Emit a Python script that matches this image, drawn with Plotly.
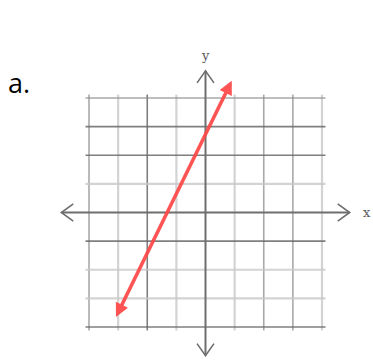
import plotly.graph_objects as go

# Graph paper: integer grid from -4 to 4 on both axes
grid_ticks = [-4, -3, -2, -1, 1, 2, 3, 4]
# shade of each grid line ("d" dark, "m" medium, "l" light), same order as grid_ticks
vert_shade = ["m", "l", "d", "l", "l", "m", "m", "l"]
horiz_shade = ["d", "l", "l", "d", "l", "d", "d", "m"]

# Red line with arrows on both ends (endpoints in graph units)
line_x = [-3.1, 0.9]
line_y = [-3.7, 4.6]

axis_extent = 4.95
item_label = "a."

shade_col = {"d": "rgba(105,105,105,0.85)", "m": "rgba(140,140,140,0.75)", "l": "rgba(200,200,200,0.8)"}
shade_w = {"d": 1.6, "m": 1.6, "l": 2.2}
grid_over = 0.12
axis_col = "rgb(110,110,110)"

fig = go.Figure()
shapes = []
for t, s in zip(grid_ticks, vert_shade):
    shapes.append(dict(type="line", xref="x", yref="y", x0=t, x1=t,
                       y0=-4 - grid_over, y1=4 + grid_over,
                       line=dict(color=shade_col[s], width=shade_w[s])))
for t, s in zip(grid_ticks, horiz_shade):
    shapes.append(dict(type="line", xref="x", yref="y", y0=t, y1=t,
                       x0=-4 - grid_over, x1=4 + grid_over,
                       line=dict(color=shade_col[s], width=shade_w[s])))

# Axes
shapes.append(dict(type="line", xref="x", yref="y", x0=-axis_extent, x1=axis_extent, y0=0, y1=0,
                   line=dict(color=axis_col, width=2)))
shapes.append(dict(type="line", xref="x", yref="y", y0=-axis_extent - 0.05, y1=axis_extent, x0=0, x1=0,
                   line=dict(color=axis_col, width=2)))
fig.update_layout(shapes=shapes)

# Open chevron heads at the ends of each axis
ax_len, ax_half = 0.41, 0.30
ay_len, ay_half = 0.42, 0.29
e = axis_extent
cx = [-e + ax_len, -e, -e + ax_len, None,
      e - ax_len, e, e - ax_len, None,
      -ay_half, 0, ay_half, None,
      -ay_half, 0, ay_half]
cy = [ax_half, 0, -ax_half, None,
      ax_half, 0, -ax_half, None,
      e - ay_len, e, e - ay_len, None,
      -e - 0.05 + ay_len, -e - 0.05, -e - 0.05 + ay_len]
fig.add_trace(go.Scatter(x=cx, y=cy, mode="lines", hoverinfo="skip",
                         line=dict(color=axis_col, width=1.6), showlegend=False))

# Double-headed red line
annos = [
    dict(x=line_x[1], y=line_y[1], ax=line_x[0], ay=line_y[0],
         xref="x", yref="y", axref="x", ayref="y", text="",
         showarrow=True, arrowhead=2, startarrowhead=2, arrowside="end+start",
         arrowsize=0.75, startarrowsize=0.75, arrowwidth=3.6,
         arrowcolor="rgba(255,70,70,0.92)", standoff=0, startstandoff=0),
    dict(x=5.55, y=0, xref="x", yref="y", text="x", showarrow=False,
         font=dict(family="DejaVu Serif", size=13, color="rgb(90,90,90)")),
    dict(x=0, y=5.5, xref="x", yref="y", text="y", showarrow=False,
         font=dict(family="DejaVu Serif", size=13, color="rgb(90,90,90)")),
    dict(x=-6.42, y=4.55, xref="x", yref="y", text=item_label, showarrow=False,
         font=dict(family="Open Sans", size=27, color="black")),
]
fig.update_layout(annotations=annos)

fig.update_layout(
    width=373, height=360,
    margin=dict(l=0, r=0, t=0, b=0),
    paper_bgcolor="white", plot_bgcolor="white",
    xaxis=dict(range=[-7.056, 5.751], visible=False, fixedrange=True),
    yaxis=dict(range=[-5.153, 7.424], visible=False, fixedrange=True),
    showlegend=False,
)

fig.write_html("out.html")
